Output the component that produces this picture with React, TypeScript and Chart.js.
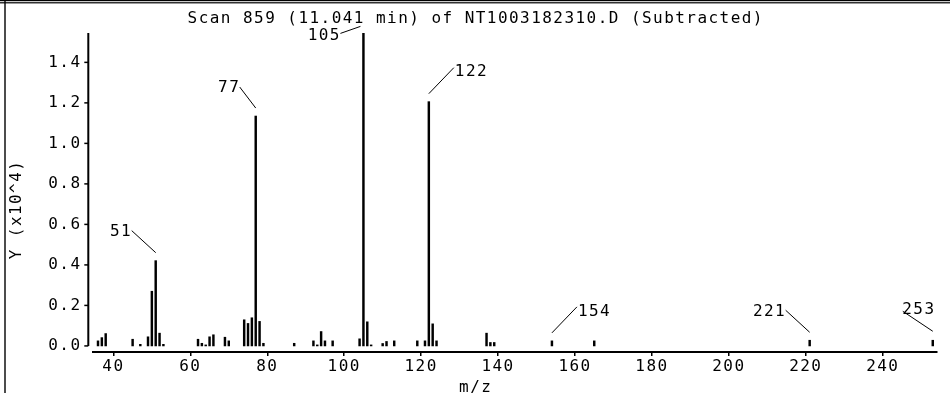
import React, { useEffect, useRef } from "react";
import { Chart, registerables } from "chart.js";

Chart.register(...registerables);

// ---------- data ----------
const TITLE = "Scan 859 (11.041 min) of NT1003182310.D (Subtracted)";
const X_TITLE = "m/z";
const Y_TITLE = "Y (x10^4)";

const mz = [
  36, 37, 38, 45, 47, 49, 50, 51, 52, 53,
  62, 63, 64, 65, 66, 69, 70, 74, 75, 76,
  77, 78, 79, 87, 92, 93, 94, 95, 97, 104,
  105, 106, 107, 110, 111, 113, 119, 121, 122, 123,
  124, 137, 138, 139, 154, 165, 221, 253,
];
const abundance = [
  0.025, 0.041, 0.061, 0.033, 0.008, 0.045, 0.27, 0.421, 0.063, 0.008,
  0.033, 0.013, 0.005, 0.045, 0.055, 0.043, 0.025, 0.129, 0.111, 0.139,
  1.135, 0.121, 0.013, 0.013, 0.025, 0.005, 0.071, 0.025, 0.025, 0.035,
  1.543, 0.119, 0.005, 0.012, 0.022, 0.025, 0.025, 0.025, 1.206, 0.109,
  0.025, 0.063, 0.017, 0.017, 0.025, 0.025, 0.028, 0.028,
];

const labeledPeaks = [51, 77, 105, 122, 154, 221, 253];
const labelSides = ["L", "l", "T", "R", "R", "L", "E"];

const xTicks = [40, 60, 80, 100, 120, 140, 160, 180, 200, 220, 240];
const yTicks = [0, 0.2, 0.4, 0.6, 0.8, 1.0, 1.2, 1.4];

const X_MIN = 34.7;
const X_MAX = 254.1;
const Y_MIN = -0.03;
const Y_MAX = 1.545;

// ---------- style ----------
const FONT_FAMILY = '"DejaVu Sans Mono", monospace';
const FONT_SIZE = 16;
const LS = 1.45;
const CAP_HALF = 5.8;

const decorPlugin = {
  id: "decor",
  beforeDraw(chart: any) {
    (chart.ctx as any).letterSpacing = LS + "px";
  },
  afterDraw(chart: any) {
    const { ctx, chartArea, scales, width, height } = chart;
    const xs = scales.x;
    const ys = scales.y;
    ctx.save();
    (ctx as any).letterSpacing = LS + "px";
    ctx.fillStyle = "#000";
    ctx.strokeStyle = "#000";

    // frame
    ctx.fillRect(0, 0, width, 1.2);
    ctx.fillRect(0, 2.2, width, 1.2);
    ctx.fillRect(4.3, 0, 1.4, height);

    // y axis line + ticks
    const axX = chartArea.left - 4.7;
    const yTop = ys.getPixelForValue(Y_MAX);
    const y0 = ys.getPixelForValue(0);
    ctx.lineWidth = 2;
    ctx.beginPath();
    ctx.moveTo(axX, yTop);
    ctx.lineTo(axX, y0);
    ctx.stroke();
    ctx.lineWidth = 1.5;
    for (const v of yTicks) {
      const py = ys.getPixelForValue(v);
      ctx.beginPath();
      ctx.moveTo(axX - 4, py);
      ctx.lineTo(axX, py);
      ctx.stroke();
    }

    // titles
    ctx.font = `${FONT_SIZE}px ${FONT_FAMILY}`;
    ctx.textBaseline = "alphabetic";
    ctx.textAlign = "center";
    ctx.fillText(TITLE, width / 2 + LS / 2, 23.3);
    ctx.fillText(X_TITLE, width / 2 + LS / 2, 391.5);
    ctx.save();
    ctx.translate(20.7, 209.5);
    ctx.rotate(-Math.PI / 2);
    ctx.fillText(Y_TITLE, 0, 0);
    ctx.restore();

    // peak labels
    ctx.lineWidth = 1;
    labeledPeaks.forEach((m, k) => {
      const i = mz.indexOf(m);
      const v = abundance[i];
      const px = xs.getPixelForValue(m);
      const top = ys.getPixelForValue(v);
      const side = labelSides[k];
      let sx = px, sy = top - 8, ex = 0, ey = 0, tx = 0, cy = 0;
      let align: CanvasTextAlign = "right";
      if (side === "L") {
        ex = px - 24; ey = sy - 22; tx = ex + 0.5; cy = ey - 0.5; align = "right";
      } else if (side === "l") {
        ex = px - 16; ey = sy - 21; tx = ex + 0.5; cy = ey - 0.5; align = "right";
      } else if (side === "R") {
        ex = px + 25; ey = sy - 26; tx = ex + 1; cy = ey + 3; align = "left";
      } else if (side === "T") {
        sx = px - 3; sy = top - 7; ex = px - 23; ey = top; tx = ex + 0.5; cy = top + 1; align = "right";
      } else {
        sy = top - 9; ex = px - 30; ey = sy - 20; tx = ex - 0.5; cy = ey - 3; align = "left";
      }
      ctx.beginPath();
      ctx.moveTo(sx, sy);
      ctx.lineTo(ex, ey);
      ctx.stroke();
      ctx.textAlign = align;
      ctx.fillText(String(m), tx, cy + CAP_HALF);
    });
    ctx.restore();
  },
};

export default function App() {
  const canvasRef = useRef<HTMLCanvasElement | null>(null);

  useEffect(() => {
    const canvas = canvasRef.current;
    if (!canvas) return;
    const chart = new Chart(canvas, {
      type: "bar",
      data: {
        datasets: [
          {
            data: mz.map((m, i) => ({ x: m, y: abundance[i] })),
            backgroundColor: "#000",
            borderWidth: 0,
            barThickness: 1.8,
            grouped: false,
          } as any,
        ],
      },
      options: {
        animation: false,
        responsive: false,
        maintainAspectRatio: false,
        devicePixelRatio: 1,
        layout: { padding: { left: 0, right: 13, top: 33, bottom: 0 } },
        plugins: {
          legend: { display: false },
          tooltip: { enabled: false },
          title: { display: false },
        },
        scales: {
          x: {
            type: "linear",
            offset: false,
            min: X_MIN,
            max: X_MAX,
            afterBuildTicks: (s: any) => {
              s.ticks = xTicks.map((v) => ({ value: v }));
            },
            afterFit: (s: any) => {
              s.height = 41;
            },
            grid: {
              offset: false,
              drawOnChartArea: false,
              drawTicks: true,
              tickLength: 4,
              color: "#000",
              lineWidth: 1.5,
            },
            border: { display: true, color: "#000", width: 2 },
            ticks: {
              color: "#000",
              font: { family: FONT_FAMILY, size: FONT_SIZE },
              padding: 1,
              maxRotation: 0,
              autoSkip: false,
              callback: (v: any) => String(v),
            },
          },
          y: {
            type: "linear",
            min: Y_MIN,
            max: Y_MAX,
            afterBuildTicks: (s: any) => {
              s.ticks = yTicks.map((v) => ({ value: v }));
            },
            afterFit: (s: any) => {
              s.width = 93;
            },
            grid: { display: false, drawTicks: false },
            border: { display: false },
            ticks: {
              color: "#000",
              font: { family: FONT_FAMILY, size: FONT_SIZE },
              padding: 11.5,
              callback: (v: any) => Number(v).toFixed(1),
            },
          },
        },
      } as any,
      plugins: [decorPlugin],
    });
    return () => chart.destroy();
  }, []);

  return (
    <div style={{ position: "fixed", left: 0, top: 0, width: 950, height: 393, background: "#fff" }}>
      <canvas ref={canvasRef} width={950} height={393} style={{ display: "block", width: 950, height: 393 }} />
    </div>
  );
}
